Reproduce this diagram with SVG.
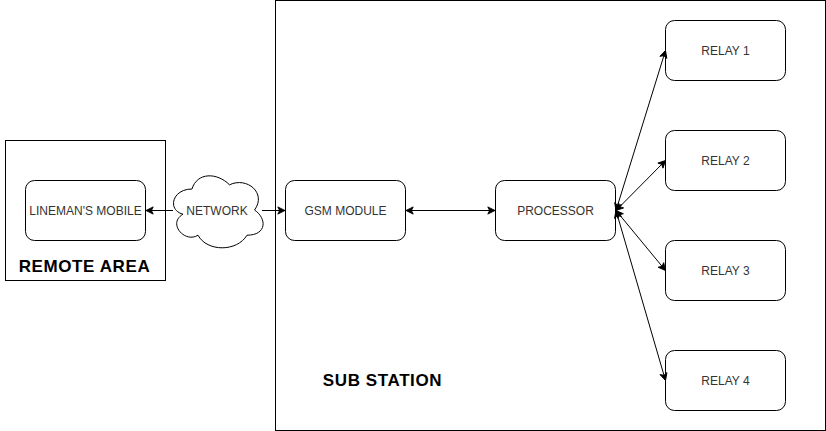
<svg xmlns="http://www.w3.org/2000/svg" width="826" height="431" viewBox="0 0 826 431">
<style>
.frame{fill:#fff;stroke:#000;stroke-width:1}
.node{fill:#fff;stroke:#000;stroke-width:1}
.lbl{font-family:"Liberation Sans",Arial,sans-serif;font-size:12px;fill:#333;text-anchor:middle;dominant-baseline:central}
.big{font-family:"Liberation Sans",Arial,sans-serif;font-size:17px;letter-spacing:0.6px;font-weight:bold;fill:#000;text-anchor:middle;dominant-baseline:central}
.edge{fill:none;stroke:#000;stroke-width:1}
</style>
<defs>
<marker id="arr" viewBox="0 0 10 10" refX="9" refY="5" markerWidth="9" markerHeight="9" markerUnits="userSpaceOnUse" orient="auto-start-reverse">
<path d="M1,1 L9,5 L1,9 L3,5 Z" fill="#000" stroke="#000" stroke-width="1"/>
</marker>
</defs>
<rect width="826" height="431" fill="#fff"/>
<g id="remote-area">
<rect class="frame" x="5.5" y="140.5" width="160" height="140"/>
<text class="big" x="84.5" y="266">REMOTE AREA</text>
</g>
<g id="sub-station">
<rect class="frame" x="275.5" y="0.5" width="550" height="430"/>
<text class="big" x="382.5" y="380">SUB STATION</text>
</g>
<g id="lineman-mobile">
<rect class="node" x="25.5" y="180.5" width="120" height="60" rx="9"/>
<text class="lbl" x="85.5" y="210.5">LINEMAN'S MOBILE</text>
</g>
<g id="network">
<path class="node" d="M192,189 C172,189 167,210 183,214.2 C167,223.44 185,243.6 198,235.2 C207,252 237,252 247,235.2 C267,235.2 267,218.4 254.5,210 C267,193.2 247,176.4 229.5,184.8 C217,172.2 197,172.2 192,189 Z"/>
<text class="lbl" x="217" y="210.5">NETWORK</text>
</g>
<g id="gsm-module">
<rect class="node" x="285.5" y="180.5" width="120" height="60" rx="9"/>
<text class="lbl" x="345.5" y="210.5">GSM MODULE</text>
</g>
<g id="processor">
<rect class="node" x="495.5" y="180.5" width="120" height="60" rx="9"/>
<text class="lbl" x="555.5" y="210.5">PROCESSOR</text>
</g>
<g id="relay-1">
<rect class="node" x="665.5" y="20.5" width="120" height="60" rx="9"/>
<text class="lbl" x="725.5" y="50.5">RELAY 1</text>
</g>
<g id="relay-2">
<rect class="node" x="665.5" y="130.5" width="120" height="60" rx="9"/>
<text class="lbl" x="725.5" y="160.5">RELAY 2</text>
</g>
<g id="relay-3">
<rect class="node" x="665.5" y="240.5" width="120" height="60" rx="9"/>
<text class="lbl" x="725.5" y="270.5">RELAY 3</text>
</g>
<g id="relay-4">
<rect class="node" x="665.5" y="350.5" width="120" height="60" rx="9"/>
<text class="lbl" x="725.5" y="380.5">RELAY 4</text>
</g>
<g id="connectors">
<line class="edge" x1="173" y1="210.5" x2="146" y2="210.5" marker-end="url(#arr)"/>
<line class="edge" x1="262" y1="210.5" x2="285" y2="210.5" marker-end="url(#arr)"/>
<line class="edge" x1="406" y1="210.5" x2="495" y2="210.5" marker-start="url(#arr)" marker-end="url(#arr)"/>
<line class="edge" x1="616" y1="210.5" x2="665.5" y2="50.5" marker-start="url(#arr)" marker-end="url(#arr)"/>
<line class="edge" x1="616" y1="210.5" x2="665.5" y2="160.5" marker-start="url(#arr)" marker-end="url(#arr)"/>
<line class="edge" x1="616" y1="210.5" x2="665.5" y2="270.5" marker-start="url(#arr)" marker-end="url(#arr)"/>
<line class="edge" x1="616" y1="210.5" x2="665.5" y2="380.5" marker-start="url(#arr)" marker-end="url(#arr)"/>
</g>
</svg>
